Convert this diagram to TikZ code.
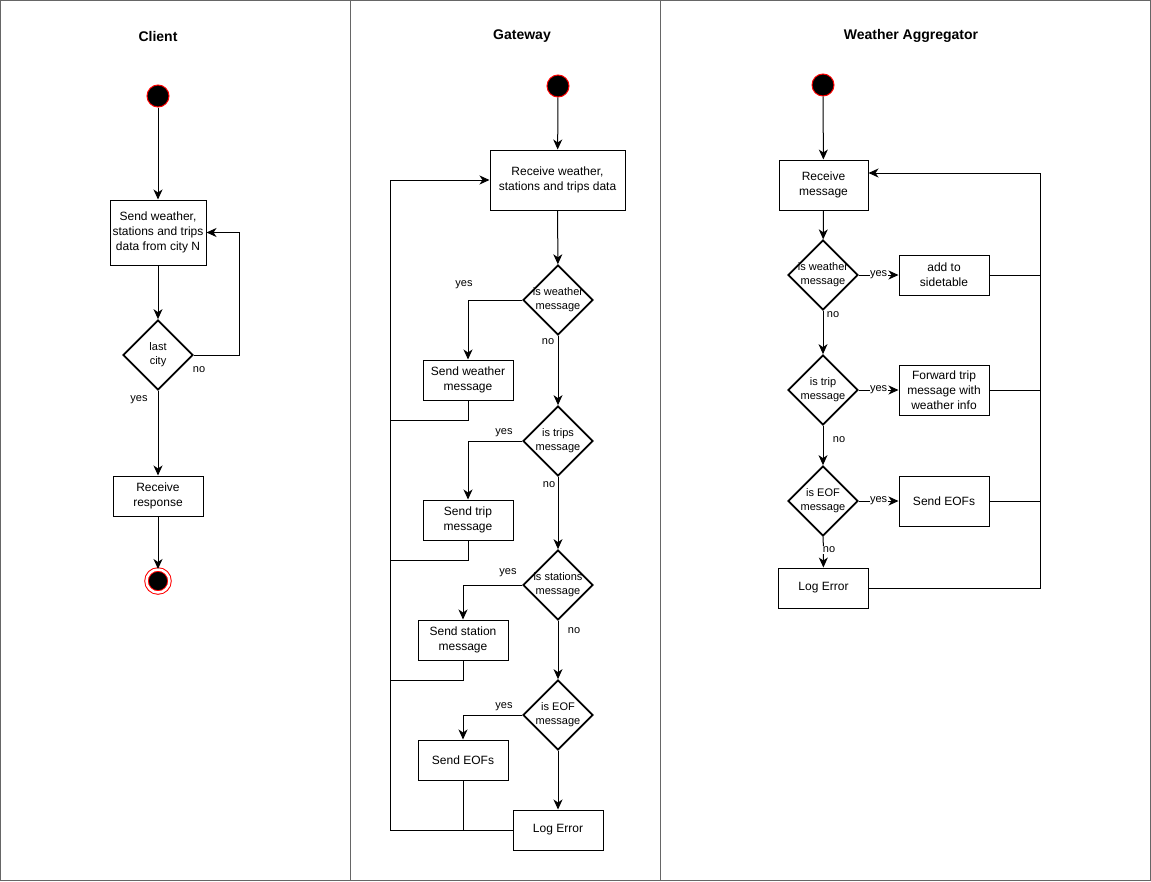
\documentclass[tikz,border=0pt]{standalone}
\usepackage{fontspec}
\setmainfont{Liberation Sans}
\usetikzlibrary{arrows.meta,shapes.geometric}

\begin{document}
\begin{tikzpicture}[x=1pt, y=-1pt, line width=1pt,
	every node/.style={font=\fontsize{12}{15}\selectfont},
	>={Stealth[length=10pt,width=9pt,inset=3pt]},
	box/.style={draw, rectangle, align=center, inner sep=2pt, minimum width=90pt, minimum height=40pt},
	decision/.style={draw, diamond, line width=1.7pt, minimum size=70pt, inner xsep=-12pt, inner ysep=0pt, align=center, font=\fontsize{11}{14}\selectfont},
	initial/.style={circle, fill=black, draw=red, minimum size=22pt, inner sep=0pt},
	final/.style={circle, fill=black, draw=red, double=white, double distance=2.5pt, minimum size=23pt, inner sep=0pt},
	lbl/.style={font=\fontsize{11}{13}\selectfont, inner sep=1pt},
	title/.style={font=\fontsize{14}{16}\selectfont\bfseries}]
	\useasboundingbox (0,0) rectangle (1151,881);
	\draw[gray!80!black] (0.5,0.5) rectangle (1150.5,880.5);
	\draw[gray!80!black] (350,0.5) -- (350,880.5);
	\draw[gray!80!black] (660,0.5) -- (660,880.5);
	\node[title] (tClient) at (158,36) {Client};
	\node[title] (tGateway) at (522,36) {Gateway};
	\node[title] (tAggr) at (911,36) {Weather Aggregator};

	% client
	\node[initial] (cStart) at (158,96) {};
	\node[box, minimum width=96pt, minimum height=65pt] (cSend) at (158,232.5) {Send weather,\\stations and trips\\data from city N};
	\node[decision] (cLast) at (158,355) {last\\city};
	\node[box] (cRecv) at (158,496) {Receive\\response};
	\node[final] (cEnd) at (158,581) {};
	\coordinate (cLoop) at (239,355);
	\draw[->] (cStart) -- (cSend);
	\draw[->] (cSend) -- (cLast);
	\draw[->] (cLast.east) -- (cLoop) |- (cSend.east);
	\draw[->] (cLast) -- (cRecv);
	\draw[->] (cRecv) -- (cEnd);
	\node[lbl] (cNo) at (199,370) {no};
	\node[lbl] (cYes) at (139,400) {yes};

	% gateway
	\node[initial] (gStart) at (558,86) {};
	\node[box, minimum width=135pt, minimum height=60pt] (gRecv) at (557.5,180) {Receive weather,\\stations and trips data};
	\node[decision] (gW) at (558,300) {is weather\\message};
	\node[box] (gSendW) at (468,380) {Send weather\\message};
	\node[decision] (gT) at (558,441) {is trips\\message};
	\node[box] (gSendT) at (468,520) {Send trip\\message};
	\node[decision] (gS) at (558,585) {is stations\\message};
	\node[box] (gSendS) at (463,640) {Send station\\message};
	\node[decision] (gE) at (558,715) {is EOF\\message};
	\node[box] (gSendE) at (463,760) {Send EOFs};
	\node[box] (gLog) at (558,830) {Log Error};
	\coordinate (gBus) at (390,830);
	\coordinate (gJw) at (390,420);
	\coordinate (gJt) at (390,560);
	\coordinate (gJs) at (390,680);
	\coordinate (gJe) at (463,830);
	\draw[->] (gStart) -- (gRecv);
	\draw[->] (gRecv) -- (gW);
	\draw[->] (gW.west) -| (gSendW);
	\draw[->] (gW) -- (gT);
	\draw[->] (gT.west) -| (gSendT);
	\draw[->] (gT) -- (gS);
	\draw[->] (gS.west) -| (gSendS);
	\draw[->] (gS) -- (gE);
	\draw[->] (gE.west) -| (gSendE);
	\draw[->] (gE) -- (gLog);
	\draw[->] (gLog.west) -- (gBus) |- (gRecv.west);
	\draw (gSendW.south) |- (gJw);
	\draw (gSendT.south) |- (gJt);
	\draw (gSendS.south) |- (gJs);
	\draw (gSendE.south) -- (gJe);
	\node[lbl] (gYes1) at (464,285) {yes};
	\node[lbl] (gNo1) at (548,342) {no};
	\node[lbl] (gYes2) at (504,433) {yes};
	\node[lbl] (gNo2) at (549,485) {no};
	\node[lbl] (gYes3) at (508,573) {yes};
	\node[lbl] (gNo3) at (574,631) {no};
	\node[lbl] (gYes4) at (504,707) {yes};

	% weather aggregator
	\node[initial] (aStart) at (823,85) {};
	\node[box, minimum width=89pt, minimum height=50pt] (aRecv) at (823.5,185) {Receive\\message};
	\node[decision] (aW) at (823,275) {is weather\\message};
	\node[box] (aSide) at (944,275) {add to\\sidetable};
	\node[decision] (aT) at (823,390) {is trip\\message};
	\node[box, minimum height=50pt] (aFwd) at (944,390) {Forward trip\\message with\\weather info};
	\node[decision] (aE) at (823,501) {is EOF\\message};
	\node[box, minimum height=50pt] (aEof) at (944,501) {Send EOFs};
	\node[box] (aLog) at (823.5,588) {Log Error};
	\coordinate (aBus) at (1040,588);
	\coordinate (aJw) at (1040,275);
	\coordinate (aJt) at (1040,390);
	\coordinate (aJe) at (1040,501);
	\draw[->] (aStart) -- (aRecv);
	\draw[->] (aRecv) -- (aW);
	\draw[->] (aW) -- node[lbl, fill=white, inner sep=0.5pt] (aYes1) {yes} (aSide);
	\draw[->] (aW) -- (aT);
	\draw[->] (aT) -- node[lbl, fill=white, inner sep=0.5pt] (aYes2) {yes} (aFwd);
	\draw[->] (aT) -- (aE);
	\draw[->] (aE) -- node[lbl, fill=white, inner sep=0.5pt] (aYes3) {yes} (aEof);
	\draw[->] (aE) -- (aLog);
	\draw[->] (aLog.east) -- (aBus) |- ([yshift=12pt]aRecv.east);
	\draw (aSide.east) -- (aJw);
	\draw (aFwd.east) -- (aJt);
	\draw (aEof.east) -- (aJe);
	\node[lbl] (aNo1) at (833,315) {no};
	\node[lbl] (aNo2) at (839,440) {no};
	\node[lbl, fill=white, inner sep=0.5pt] (aNo3) at (829,550) {no};
\end{tikzpicture}
\end{document}
